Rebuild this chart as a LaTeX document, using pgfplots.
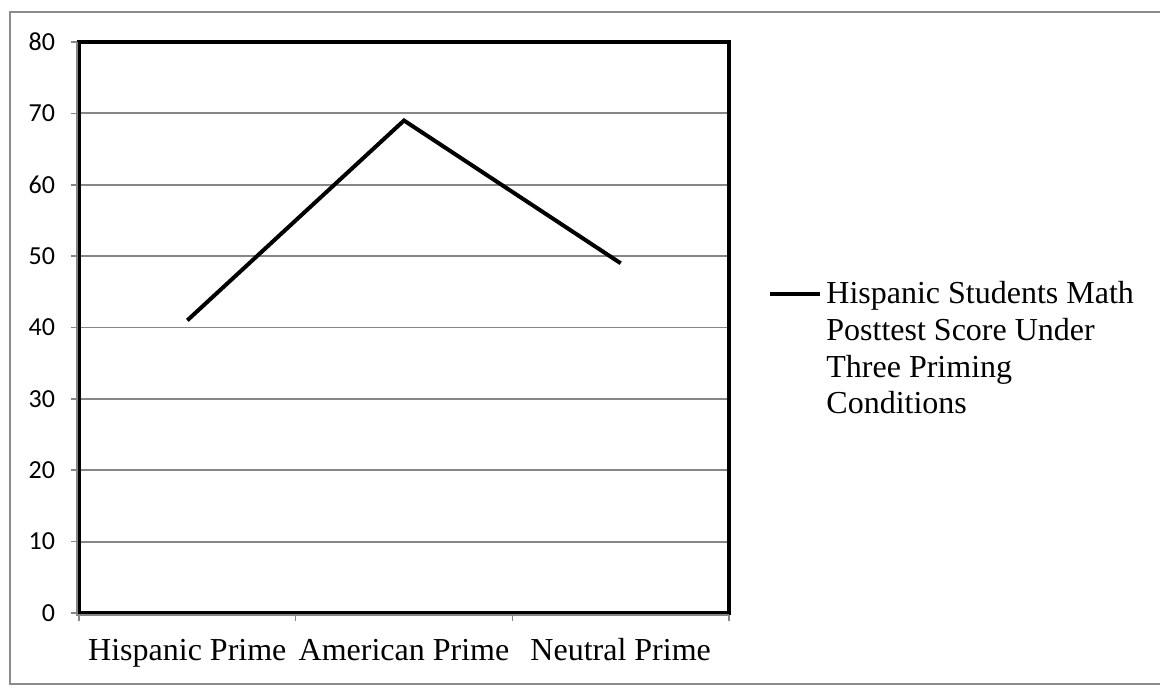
\documentclass[border=0pt]{standalone}
\usepackage{pgfplots}
\pgfplotsset{compat=1.18}
\usepackage{fontspec}
\setmainfont{Liberation Serif}
\newfontfamily\carlito{Carlito}
\definecolor{gridgray}{HTML}{868686}
\definecolor{framegray}{HTML}{8C8C8C}
\begin{document}
\begin{tikzpicture}
\useasboundingbox (0,0) rectangle (580pt,-344pt);
\draw[framegray, line width=0.7pt] (5pt,-6pt) rectangle (583pt,-342pt);
\begin{axis}[
  at={(39.5pt,-306.5pt)}, anchor=south west,
  scale only axis, width=325pt, height=285.5pt,
  xmin=-0.5, xmax=2.5, ymin=0, ymax=80,
  xtick={-0.5,0.5,1.5,2.5},
  xticklabels={Hispanic Prime,American Prime,Neutral Prime},
  x tick label as interval,
  ytick={0,10,...,80},
  xtick pos=bottom, ytick pos=left,
  ymajorgrids, grid style={gridgray, line width=0.9pt},
  tick align=outside, major tick length=4pt,
  tick style={gridgray, line width=0.8pt},
  axis line style={black, line width=2pt},
  x tick label style={font=\fontsize{16}{19}\selectfont, text height=11pt, text depth=3.5pt, yshift=-5pt},
  y tick label style={font=\carlito\fontsize{13}{15}\selectfont, xshift=-4.5pt},
  /pgf/number format/assume math mode=true,
  clip=false,
  legend style={at={(1.0508,0.462)}, anchor=west, draw=none, fill=none,
    font=\fontsize{16}{18.4}\selectfont, cells={align=left}},
  legend image code/.code={\draw[line width=2pt] (0pt,27.5pt) -- (25pt,27.5pt);},
]
\addplot[black, line width=2pt] coordinates {(0,41) (1,69) (2,49)};
\addlegendentry{Hispanic Students Math\\Posttest Score Under\\Three Priming\\Conditions}
\draw[gridgray, line width=0.6pt] ([xshift=-1pt]rel axis cs:0,1) -- ([xshift=-1pt,yshift=-1pt]rel axis cs:0,0) -- ([yshift=-1pt]rel axis cs:1,0);
\end{axis}
\end{tikzpicture}
\end{document}
